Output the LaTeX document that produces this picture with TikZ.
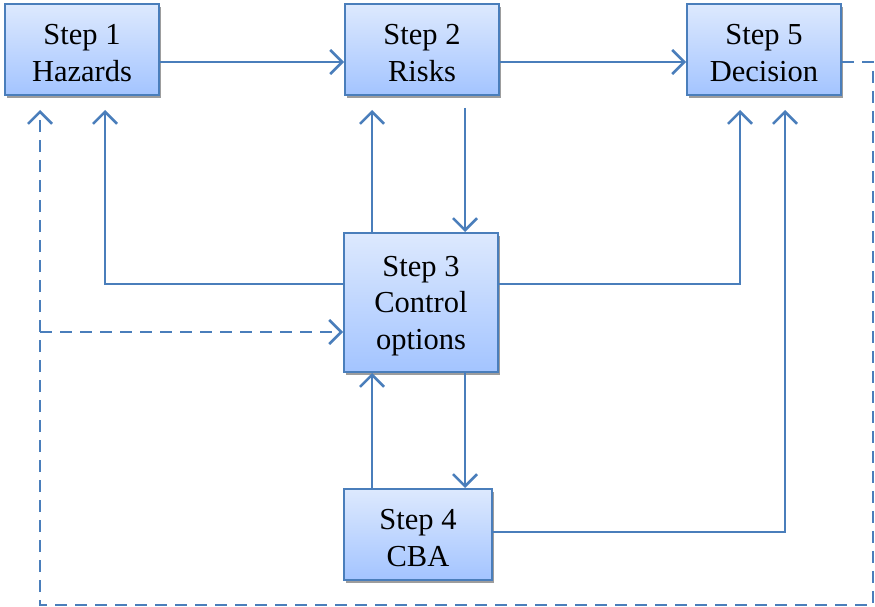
\documentclass[tikz,border=0pt]{standalone}
\usepackage{fontspec}
\setmainfont{Liberation Serif}
\usetikzlibrary{arrows.meta,shadows}
\definecolor{lineblue}{RGB}{74,126,187}
\definecolor{boxtop}{RGB}{221,233,254}
\definecolor{boxbot}{RGB}{163,196,255}
\tikzset{
  stepbox/.style={draw=lineblue, line width=2pt, top color=boxtop, bottom color=boxbot,
    drop shadow={opacity=0.7, fill=black!55, shadow xshift=1.5pt, shadow yshift=-3pt},
    inner sep=0pt},
  steptext/.style={align=center, font=\fontsize{30.5}{36.5}\selectfont, inner sep=0pt, yshift=-3.5pt},
  conn/.style={draw=lineblue, line width=2.5pt, -{Straight Barb[length=12pt,width=24pt]}},
  dashconn/.style={conn, dash pattern=on 12pt off 8pt},
}
\begin{document}
\begin{tikzpicture}[x=1pt,y=-1pt]
\useasboundingbox (0,0) rectangle (875,607);
\node[stepbox, minimum width=154pt, minimum height=91pt] (s1) at (82,49.5) {};
\node[steptext] (t1) at (s1.center) {Step 1\\Hazards};
\node[stepbox, minimum width=154pt, minimum height=91pt] (s2) at (422,49.5) {};
\node[steptext] (t2) at (s2.center) {Step 2\\Risks};
\node[stepbox, minimum width=154pt, minimum height=91pt] (s5) at (764,49.5) {};
\node[steptext] (t5) at (s5.center) {Step 5\\Decision};
\node[stepbox, minimum width=154pt, minimum height=139pt] (s3) at (421,302.5) {};
\node[steptext] (t3) at (s3.center) {Step 3\\Control\\options};
\node[stepbox, minimum width=148pt, minimum height=91pt] (s4) at (418,534.5) {};
\node[steptext] (t4) at (s4.center) {Step 4\\CBA};
\coordinate (y62) at (0,62);
\coordinate (y284) at (0,284);
\coordinate (y332) at (0,332);
\coordinate (y532) at (0,532);
\coordinate (x40) at (40,0);
\coordinate (x105) at (105,0);
\coordinate (x372) at (372,0);
\coordinate (x465) at (465,0);
\coordinate (x740) at (740,0);
\coordinate (x785) at (785,0);
\coordinate (cr) at (873,62);
\coordinate (br) at (873,605);
\coordinate (bl) at (40,605);
\coordinate (br3) at (40,332);
% solid connectors
\draw[conn] (s1.east |- y62) -- (s2.west |- y62);
\draw[conn] (s2.east |- y62) -- (s5.west |- y62);
\draw[conn, shorten <=12pt] (s2.south -| x465) -- (s3.north -| x465);
\draw[conn, shorten >=14pt] (s3.north -| x372) -- (s2.south -| x372);
\draw[conn, shorten >=14pt] (s3.west |- y284) -| (s1.south -| x105);
\draw[conn, shorten >=14pt] (s3.east |- y284) -| (s5.south -| x740);
\draw[conn] (s3.south -| x465) -- (s4.north -| x465);
\draw[conn] (s4.north -| x372) -- (s3.south -| x372);
\draw[conn, shorten >=14pt] (s4.east |- y532) -| (s5.south -| x785);
% dashed loop
\draw[dashconn, shorten >=14pt] (s5.east |- y62) -- (cr) -- (br) -- (bl) -- (s1.south -| x40);
\draw[dashconn] (br3) -- (s3.west |- y332);
\end{tikzpicture}
\end{document}
